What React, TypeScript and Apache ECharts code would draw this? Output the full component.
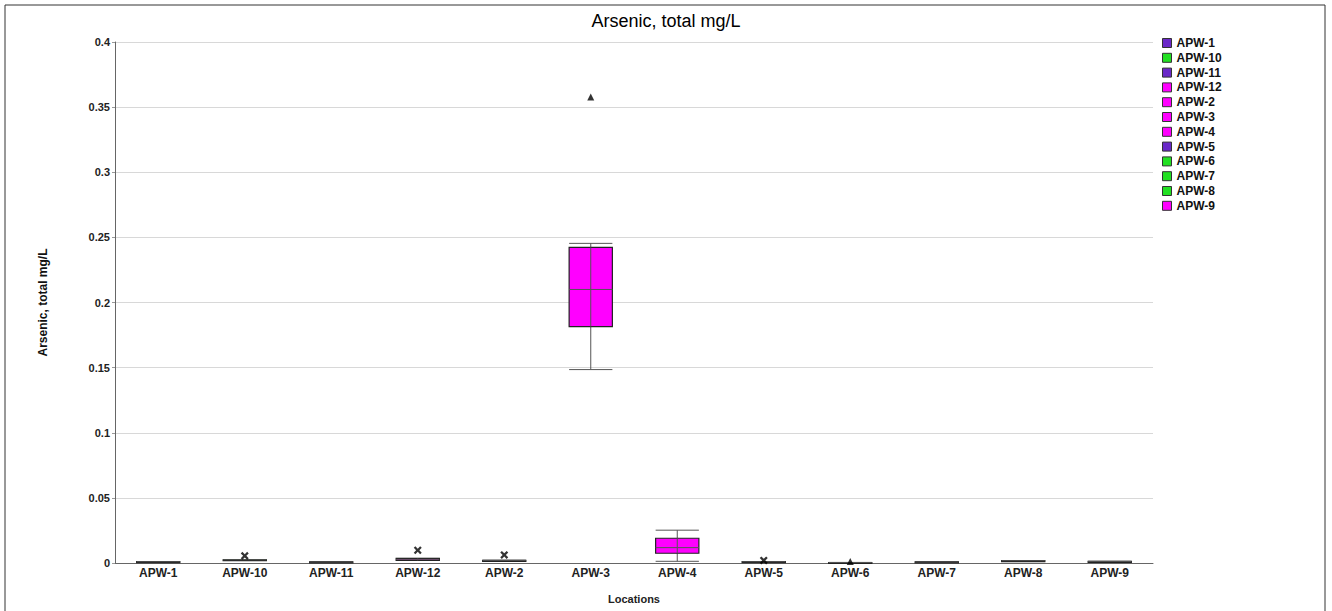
import React, { useEffect, useRef } from "react";
import * as echarts from "echarts";

const locations = ["APW-1", "APW-10", "APW-11", "APW-12", "APW-2", "APW-3", "APW-4", "APW-5", "APW-6", "APW-7", "APW-8", "APW-9"];
const colors = ["#6a28c8", "#22e022", "#6a28c8", "#ff00ff", "#ff00ff", "#ff00ff", "#ff00ff", "#6a28c8", "#22e022", "#22e022", "#22e022", "#ff00ff"];
// [low whisker, q1, median, q3, high whisker]
const boxStats = [
  [0.001, 0.001, 0.001, 0.001, 0.001],
  [0.0025, 0.0025, 0.0025, 0.0025, 0.0025],
  [0.0008, 0.0008, 0.0008, 0.0008, 0.0008],
  [0.002, 0.002, 0.0028, 0.0035, 0.0035],
  [0.002, 0.002, 0.002, 0.002, 0.002],
  [0.1485, 0.1815, 0.21, 0.2423, 0.2454],
  [0.0013, 0.0075, 0.0118, 0.019, 0.0252],
  [0.001, 0.001, 0.001, 0.001, 0.001],
  [0.0004, 0.0004, 0.0004, 0.0004, 0.0004],
  [0.0008, 0.0008, 0.0008, 0.0008, 0.0008],
  [0.0018, 0.0018, 0.0018, 0.0018, 0.0018],
  [0.0012, 0.0012, 0.0012, 0.0012, 0.0012],
];
const outliersX = [["APW-10", 0.0055], ["APW-12", 0.0098], ["APW-2", 0.0062], ["APW-5", 0.002]];
const outliersTriangle = [["APW-3", 0.3577], ["APW-6", 0.0012]];
const yTicks = { min: 0, max: 0.4, interval: 0.05 };

const FONT = 'Arial, "Liberation Sans", sans-serif';

export default function App() {
  const ref = useRef<HTMLDivElement>(null);
  useEffect(() => {
    if (!ref.current) return;
    const chart = echarts.init(ref.current, null, { renderer: "svg" });
    const boxSeries = locations.map((name, i) => ({
      name,
      type: "custom",
      itemStyle: { color: colors[i] },
      data: [[i, ...boxStats[i]]],
      encode: { x: 0, y: [1, 2, 3, 4, 5] },
      renderItem: (params: any, api: any) => {
        const x = api.value(0);
        const lo = api.coord([x, api.value(1)]);
        const q1 = api.coord([x, api.value(2)]);
        const med = api.coord([x, api.value(3)]);
        const q3 = api.coord([x, api.value(4)]);
        const hi = api.coord([x, api.value(5)]);
        const bw = api.size([1, 0])[0] * 0.5;
        const cx = lo[0];
        const l = cx - bw / 2;
        const r = cx + bw / 2;
        return {
          type: "group",
          children: [
            { type: "line", shape: { x1: cx, y1: hi[1], x2: cx, y2: lo[1] }, style: { stroke: "#555", lineWidth: 1 } },
            { type: "line", shape: { x1: l, y1: hi[1], x2: r, y2: hi[1] }, style: { stroke: "#555", lineWidth: 1 } },
            { type: "line", shape: { x1: l, y1: lo[1], x2: r, y2: lo[1] }, style: { stroke: "#555", lineWidth: 1 } },
            {
              type: "rect",
              shape: { x: l, y: q3[1], width: bw, height: Math.max(q1[1] - q3[1], 1) },
              style: { fill: colors[i], stroke: "#222", lineWidth: 1.2 },
            },
            { type: "line", shape: { x1: cx, y1: q3[1], x2: cx, y2: q1[1] }, style: { stroke: "#555", lineWidth: 1 } },
            { type: "line", shape: { x1: l, y1: med[1], x2: r, y2: med[1] }, style: { stroke: "#555", lineWidth: 1 } },
          ],
        };
      },
    }));
    chart.setOption({
      animation: false,
      backgroundColor: "#fff",
      title: {
        text: "Arsenic, total mg/L",
        left: "center",
        top: 7,
        textStyle: { fontFamily: FONT, fontSize: 18, fontWeight: "normal", color: "#000" },
      },
      legend: {
        data: locations,
        orient: "vertical",
        left: 1157,
        top: 32,
        itemWidth: 9,
        itemHeight: 9,
        itemGap: 2.8,
        icon: "rect",
        itemStyle: { borderColor: "#333", borderWidth: 1 },
        textStyle: { fontFamily: FONT, fontSize: 12, fontWeight: "bold", color: "#111", lineHeight: 12 },
      },
      grid: { left: 115, right: 179, top: 42, bottom: 48 },
      xAxis: {
        type: "category",
        data: locations,
        name: "Locations",
        nameLocation: "middle",
        nameGap: 30,
        nameTextStyle: { fontFamily: FONT, fontSize: 11, fontWeight: "bold", color: "#222" },
        axisLine: { lineStyle: { color: "#666" } },
        axisTick: { show: false },
        axisLabel: { fontFamily: FONT, fontSize: 12, fontWeight: "bold", color: "#222", margin: 4 },
      },
      yAxis: {
        type: "value",
        min: yTicks.min,
        max: yTicks.max,
        interval: yTicks.interval,
        name: "Arsenic, total mg/L",
        nameLocation: "middle",
        nameGap: 66,
        nameTextStyle: { fontFamily: FONT, fontSize: 12, fontWeight: "bold", color: "#111" },
        axisLine: { show: true, lineStyle: { color: "#666" } },
        axisTick: { show: true, length: 3, lineStyle: { color: "#999" } },
        axisLabel: { fontFamily: FONT, fontSize: 11, fontWeight: "bold", color: "#222", margin: 5 },
        splitLine: { lineStyle: { color: "#d8d8d8" } },
      },
      graphic: [
        { type: "rect", shape: { x: 5, y: 5, width: 1320, height: 610 }, style: { fill: "none", stroke: "#333", lineWidth: 1 }, silent: true },
      ],
      series: [
        ...boxSeries,
        {
          name: "x-outliers",
          type: "scatter",
          symbol: "path://M2,0 L5,3 L8,0 L10,2 L7,5 L10,8 L8,10 L5,7 L2,10 L0,8 L3,5 L0,2 Z",
          symbolSize: 8,
          itemStyle: { color: "#000" },
          data: outliersX,
          z: 5,
        },
        {
          name: "triangle-outliers",
          type: "scatter",
          symbol: "triangle",
          symbolSize: 7,
          itemStyle: { color: "#000" },
          data: outliersTriangle,
          z: 5,
        },
      ],
    });
    return () => chart.dispose();
  }, []);
  return <div ref={ref} style={{ position: "absolute", left: 0, top: 0, width: 1332, height: 611 }} />;
}
